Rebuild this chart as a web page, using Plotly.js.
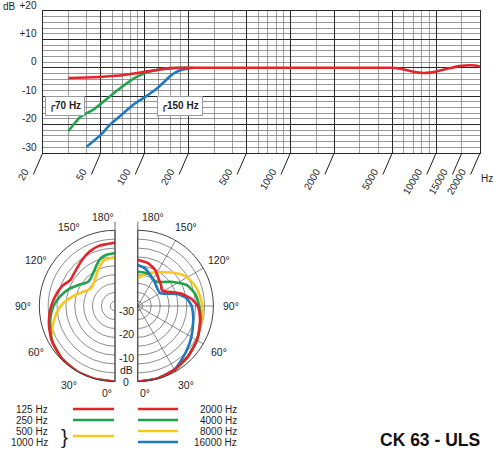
<!DOCTYPE html>
<html>
<head>
<meta charset="utf-8">
<script src="https://cdn.plot.ly/plotly-3.0.1.min.js"></script>
<style>
  html, body { margin: 0; padding: 0; background: #fff; }
  #chart { width: 500px; height: 451px; }
</style>
</head>
<body>
<div id="chart"></div>
<script>
/////Data: frequency response (Hz -> dB)/////
const freqRed = [30, 40, 50, 60, 70, 80, 90, 100, 115, 130, 150, 175, 200, 500, 1000, 2000, 5000,
                 5500, 6000, 7000, 8000, 9000, 10000, 11000, 12500, 14000, 15000, 17000, 18500, 20000];
const dbRed = [-3.6, -3.4, -3.2, -2.9, -2.6, -2.2, -1.8, -1.4, -1.0, -0.5, -0.1, 0, 0, 0, 0, 0, 0,
               -0.2, -0.6, -1.4, -1.8, -1.7, -1.3, -0.8, -0.1, 0.5, 0.75, 0.9, 0.8, 0.4];
const freqGreen = [30, 33, 36, 40, 45, 50, 58, 70, 84, 96, 110, 130, 150, 200];
const dbGreen = [-22.3, -19.6, -17.4, -16.0, -14.6, -12.7, -10.0, -6.7, -3.8, -2.3, -1.2, -0.5, -0.1, 0];
const freqBlue = [40, 50, 58, 70, 84, 100, 122, 136, 150, 163, 180, 200, 215];
const dbBlue = [-27.8, -23.6, -20.0, -16.4, -12.9, -10.4, -7.2, -5.0, -2.9, -1.6, -0.7, -0.2, 0];

const freqGridMajor = [20, 50, 100, 200, 500, 1000, 2000, 5000, 10000, 20000];
const freqGridMinor = [30, 40, 60, 70, 80, 90, 125, 150, 175, 300, 400, 600, 700, 800, 900,
                       1500, 3000, 4000, 6000, 7000, 8000, 9000, 15000];
const freqLabels = [20, 50, 100, 200, 500, 1000, 2000, 5000, 10000, 15000, 20000];
const dbTicks = [-30, -20, -10, 0, 10, 20];
const dbTickText = ['-30', '-20', '-10', '0', '+10', '+20'];
const dbMinor = [-28, -26, -24, -22, -18, -16, -14, -12, -8, -6, -4, -2,
                 2, 4, 6, 8, 12, 14, 16, 18];

/////Data: polar patterns (degrees -> dB)/////
// left half
const thetaL125 = [0, 15, 30, 45, 60, 70, 80, 90, 100, 110, 116, 120, 127, 135, 145, 155, 165, 180];
const rL125 = [0, 0, 0, -0.4, -1.4, -2.5, -3.7, -5.0, -6.5, -8.0, -9.4, -10.2, -10.0, -9.3, -8.0, -6.6, -5.7, -5.2];
const thetaL250 = [0, 15, 30, 45, 60, 70, 80, 90, 100, 110, 120, 127, 132, 140, 148, 156, 163, 170, 180];
const rL250 = [0, 0, 0, -0.4, -1.5, -2.9, -4.3, -6.0, -8.4, -11.2, -14.2, -16.0, -16.7, -16.3, -15.0, -13.0, -11.0, -10.1, -9.6];
const thetaL500 = [0, 15, 30, 45, 60, 65, 74, 84, 93, 102, 115, 122, 128, 135, 142, 155, 165, 172, 180];
const rL500 = [0, 0, 0, -0.4, -1.6, -2.3, -4.8, -7.3, -10.0, -13.4, -17.5, -19.0, -19.5, -19.0, -18.1, -15.2, -12.4, -11.8, -11.6];
// right half
const thetaR2000 = [0, 15, 30, 45, 60, 70, 80, 90, 98, 106, 111, 116, 123, 133, 143, 154, 166, 180];
const rR2000 = [0, -0.2, -0.8, -1.9, -3.1, -4.2, -5.3, -6.6, -9.2, -13.0, -15.8, -18.3, -19.8, -18.6, -17.4, -15.1, -13.4, -12.6];
const thetaR4000 = [0, 15, 30, 45, 60, 70, 80, 90, 102, 113, 124, 133, 142, 149, 158, 168, 180];
const rR4000 = [0, -0.2, -0.8, -1.9, -3.1, -4.2, -5.0, -6.0, -7.2, -9.4, -13.8, -17.1, -19.0, -19.2, -17.9, -17.6, -17.5];
const thetaR8000 = [0, 15, 30, 45, 60, 70, 80, 90, 101, 112, 122, 130, 138, 146, 155, 162, 170, 180];
const rR8000 = [0, -0.2, -0.8, -1.9, -3.1, -4.1, -4.3, -4.7, -5.5, -6.6, -8.2, -10.4, -12.8, -14.8, -16.4, -17.3, -18.7, -20.3];
const thetaR16000 = [0, 15, 30, 40, 50, 60, 73, 80, 90, 99, 107, 113, 120, 133, 143, 155, 169, 180];
const rR16000 = [0, -0.2, -1.0, -2.8, -4.4, -5.8, -7.5, -8.2, -9.2, -11.0, -14.6, -18.7, -21.1, -20.8, -19.8, -18.3, -15.8, -14.7];

const polarRings = [-30, -26.25, -22.5, -18.75, -15, -11.25, -7.5, -3.75];
const polarScaleLabels = [-30, -20, -10, 0];
const angleTicks = [30, 60, 90, 120, 150];

/////Style and layout helpers/////
const W = 500, H = 451;
const FONT = 'Liberation Sans, Arial, Helvetica, sans-serif';
const INK = '#1e1e1e';
const RED = '#e3242b', GREEN = '#1fa34a', YELLOW = '#f9c81f', BLUE = '#1f79c2';
const GRID_DARK = '#2a2a2a', GRID_LIGHT = '#8a8a8a', POLAR_GRID = '#5a5a5a';

function px(x) { return x / W; }
function py(y) { return 1 - y / H; }

// pixel boxes
const TOP = {l: 42.7, r: 480, t: 11, b: 153};
const R = 75.7, CY = 306, CXL = 115, CXR = 137.7;
const R_MIN = -32;
const LABEL_R = R + 16;
function ringY(db) { return CY + (db - R_MIN) / (0 - R_MIN) * R; }

function label(text, x, y, extra) {
  return Object.assign({
    text: text, x: px(x), y: py(y), xref: 'paper', yref: 'paper',
    xanchor: 'center', yanchor: 'middle',
    showarrow: false, font: {family: FONT, size: 10, color: INK}
  }, extra || {});
}
const POLAR_FONT = {family: FONT, size: 10.5, color: INK};

/////Traces/////
let traces = [];
traces.push({x: freqBlue, y: dbBlue, xaxis: 'x', yaxis: 'y', mode: 'lines',
  line: {color: BLUE, width: 2.6, shape: 'spline', smoothing: 0.6}, hoverinfo: 'skip'});
traces.push({x: freqGreen, y: dbGreen, xaxis: 'x', yaxis: 'y', mode: 'lines',
  line: {color: GREEN, width: 2.6, shape: 'spline', smoothing: 0.6}, hoverinfo: 'skip'});
traces.push({x: freqRed, y: dbRed, xaxis: 'x2', yaxis: 'y', mode: 'lines',
  line: {color: RED, width: 2.6, shape: 'spline', smoothing: 0.6}, hoverinfo: 'skip'});

function polarLine(subplot, theta, r, color) {
  return {type: 'scatterpolar', subplot: subplot, theta: theta, r: r, mode: 'lines',
    line: {color: color, width: 2.6, shape: 'spline', smoothing: 0.5},
    cliponaxis: false, hoverinfo: 'skip'};
}
traces.push(polarLine('polar', thetaL500, rL500, YELLOW));
traces.push(polarLine('polar', thetaL250, rL250, GREEN));
traces.push(polarLine('polar', thetaL125, rL125, RED));
traces.push(polarLine('polar2', thetaR8000, rR8000, YELLOW));
traces.push(polarLine('polar2', thetaR4000, rR4000, GREEN));
traces.push(polarLine('polar2', thetaR16000, rR16000, BLUE));
traces.push(polarLine('polar2', thetaR2000, rR2000, RED));

/////Axes/////
const xRange = [Math.log10(20), Math.log10(20000)];
const polarAngular = {
  tickmode: 'array', tickvals: angleTicks, showticklabels: false,
  ticks: '', showline: true, linecolor: '#444', linewidth: 1,
  gridcolor: POLAR_GRID, gridwidth: 0.7, rotation: 270
};
const polarRadial = {
  range: [R_MIN, 0], tickmode: 'array', tickvals: polarRings, showticklabels: false,
  ticks: '', showline: false, gridcolor: POLAR_GRID, gridwidth: 0.7
};

let layout = {
  width: W, height: H,
  margin: {l: 0, r: 0, t: 0, b: 0},
  paper_bgcolor: '#fff', plot_bgcolor: '#fff',
  showlegend: false,
  font: {family: FONT, size: 10, color: INK},
  xaxis: {
    type: 'log', domain: [px(TOP.l), px(TOP.r)], range: xRange, anchor: 'y',
    tickmode: 'array', tickvals: freqGridMajor, showticklabels: false, ticks: '',
    showgrid: true, gridcolor: GRID_DARK, gridwidth: 1,
    minor: {tickmode: 'array', tickvals: freqGridMinor, showgrid: true,
            gridcolor: GRID_LIGHT, gridwidth: 0.8, ticks: ''},
    showline: true, mirror: true, linecolor: GRID_DARK, linewidth: 1.2, zeroline: false
  },
  xaxis2: {
    type: 'log', overlaying: 'x', anchor: 'y', range: xRange, side: 'bottom',
    tickmode: 'array', tickvals: freqLabels, ticktext: freqLabels.map(String),
    tickangle: -60, ticks: '', showgrid: false, showline: false, zeroline: false,
    ticklabelshift: -18, ticklabelstandoff: 10,
    tickfont: {family: FONT, size: 10, color: INK}
  },
  yaxis: {
    domain: [py(TOP.b), py(TOP.t)], range: [-30, 20],
    tickmode: 'array', tickvals: dbTicks, ticktext: dbTickText, ticks: '',
    showgrid: true, gridcolor: GRID_DARK, gridwidth: 1.1,
    minor: {tickmode: 'array', tickvals: dbMinor, showgrid: true,
            gridcolor: '#6e6e6e', gridwidth: 0.7, ticks: ''},
    ticklabelshift: -6, ticklabelstandoff: 3, ticklabeloverflow: 'allow',
    tickfont: {family: FONT, size: 10, color: INK},
    showline: true, mirror: true, linecolor: GRID_DARK, linewidth: 1.2, zeroline: false
  },
  polar: {
    domain: {x: [px(CXL - R), px(CXL)], y: [py(CY + R), py(CY - R)]},
    sector: [90, 270], bgcolor: 'rgba(0,0,0,0)',
    angularaxis: Object.assign({}, polarAngular, {direction: 'clockwise'}),
    radialaxis: Object.assign({}, polarRadial)
  },
  polar2: {
    domain: {x: [px(CXR), px(CXR + R)], y: [py(CY + R), py(CY - R)]},
    sector: [-90, 90], bgcolor: 'rgba(0,0,0,0)',
    angularaxis: Object.assign({}, polarAngular, {direction: 'counterclockwise'}),
    radialaxis: Object.assign({}, polarRadial)
  },
  shapes: [],
  annotations: []
};

/////Decorations: top chart/////
let ann = layout.annotations;
ann.push(label('dB', 9, 6));
ann.push(label('Hz', 487, 178));
// slanted tick strokes under the frequency labels
freqLabels.forEach((f) => {
  ann.push({x: Math.log10(f), y: -30, xref: 'x', yref: 'y', text: '', showarrow: true,
    arrowhead: 0, arrowwidth: 1, arrowcolor: INK, ax: -10, ay: 23, standoff: 0});
});
// filter markers
function filterBox(text, freq) {
  return {x: Math.log10(freq), y: -13.3, xref: 'x', yref: 'y', xanchor: 'left', yanchor: 'middle',
    text: '<b>╭</b>' + text, showarrow: false, bgcolor: '#fff',
    bordercolor: '#9a9a9a', borderwidth: 1, borderpad: 3,
    font: {family: FONT, size: 10, color: INK, weight: 'bold'}};
}
ann.push(filterBox('70 Hz', 20.8));
ann.push(filterBox('150 Hz', 122));

/////Decorations: polar/////
[CXL, CXR].forEach((cx) => {
  layout.shapes.push({type: 'line', xref: 'paper', yref: 'paper', layer: 'below',
    x0: px(cx), x1: px(cx), y0: py(CY + R), y1: py(CY - R - 8.6),
    line: {color: '#9c9c9c', width: 1.5}});
});
// angle labels around both halves
angleTicks.forEach((a) => {
  const rad = a * Math.PI / 180;
  const dx = LABEL_R * Math.sin(rad), dy = LABEL_R * Math.cos(rad);
  ann.push(label(a + '°', CXL - dx, CY + dy, {font: POLAR_FONT}));
  ann.push(label(a + '°', CXR + dx + 2, CY + dy, {font: POLAR_FONT}));
});
ann.push(label('0°', CXL - 8, CY + R + 11, {font: POLAR_FONT}));
ann.push(label('180°', CXL - 12, CY - R - 13.6, {font: POLAR_FONT}));
ann.push(label('0°', CXR + 7, CY + R + 11, {font: POLAR_FONT}));
ann.push(label('180°', CXR + 15, CY - R - 13.6, {font: POLAR_FONT}));
// dB scale between the halves
const midX = (CXL + CXR) / 2;
polarScaleLabels.forEach((v) => {
  ann.push(label(String(v), midX, ringY(v), {font: POLAR_FONT}));
});
ann.push(label('dB', midX, ringY(-5), {font: POLAR_FONT}));

/////Legend/////
const legendLeft = [['125 Hz', RED, 409], ['250 Hz', GREEN, 420]];
const legendRight = [['2000 Hz', RED, 409], ['4000 Hz', GREEN, 420], ['8000 Hz', YELLOW, 431], ['16000 Hz', BLUE, 442]];
function legendLine(x0, x1, y, color) {
  layout.shapes.push({type: 'line', xref: 'paper', yref: 'paper',
    x0: px(x0), x1: px(x1), y0: py(y), y1: py(y), line: {color: color, width: 2.6}});
}
legendLeft.forEach((it) => {
  legendLine(73, 114, it[2], it[1]);
  ann.push(label(it[0], 50, it[2], {xanchor: 'right'}));
});
legendLine(73, 114, 436, YELLOW);
ann.push(label('500 Hz', 50, 431, {xanchor: 'right'}));
ann.push(label('1000 Hz', 50, 442, {xanchor: 'right'}));
ann.push(label('}', 64.5, 436.5, {font: {family: FONT, size: 21, color: INK}}));
legendRight.forEach((it) => {
  legendLine(138, 178, it[2], it[1]);
  ann.push(label(it[0], 239, it[2], {xanchor: 'right'}));
});

ann.push(label('CK 63 - ULS', 430, 440,
  {font: {family: FONT, size: 17.5, color: '#111', weight: 'bold'}}));

Plotly.newPlot('chart', traces, layout, {staticPlot: true, displayModeBar: false});
</script>
</body>
</html>
